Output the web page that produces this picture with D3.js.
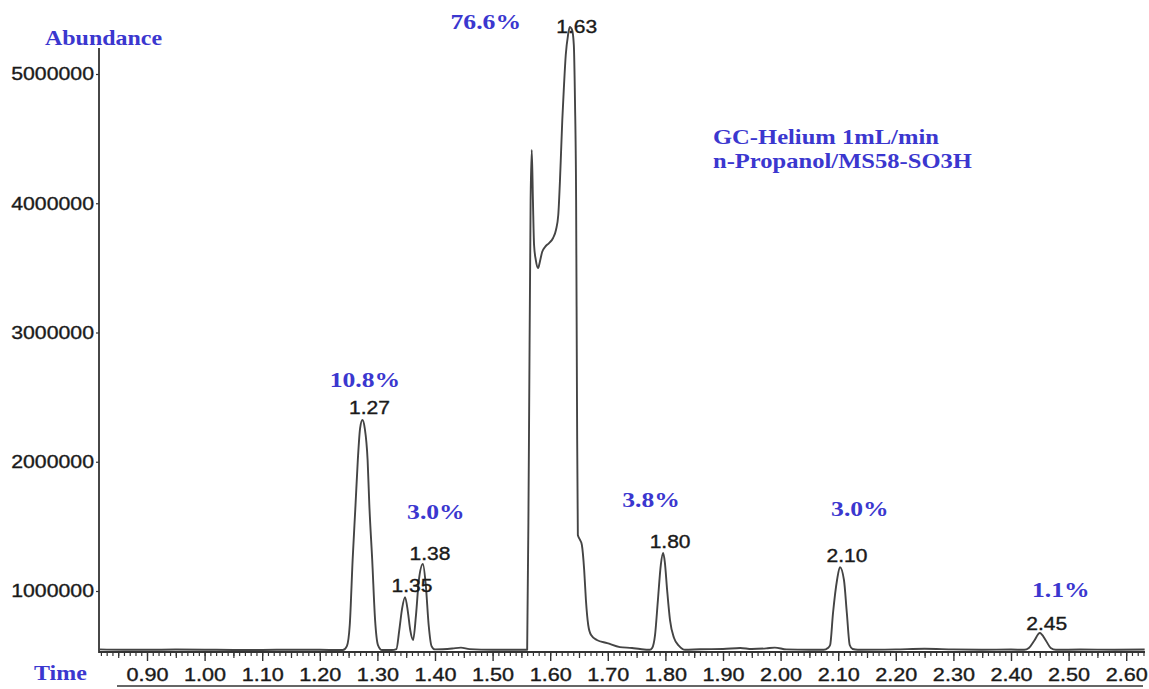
<!DOCTYPE html>
<html>
<head>
<meta charset="utf-8">
<script src="https://cdn.jsdelivr.net/npm/d3@7"></script>
<style>
  html, body { margin: 0; padding: 0; background: #fff; }
  svg { display: block; }
</style>
</head>
<body>
<svg id="chart" width="1149" height="689"></svg>
<script>
// ---- Chromatogram data: retention time (min) vs. abundance ----
const traceTime = [
  0.817, 0.86, 0.90, 0.95, 1.00, 1.05, 1.10, 1.15, 1.20, 1.240,
  1.247, 1.252, 1.257, 1.262, 1.266, 1.270, 1.274, 1.278, 1.283, 1.286,
  1.291, 1.296, 1.301, 1.308, 1.325, 1.333, 1.338, 1.343, 1.348, 1.353,
  1.357, 1.362, 1.367, 1.372, 1.379, 1.384, 1.389, 1.394, 1.400, 1.430,
  1.445, 1.460, 1.500, 1.540, 1.560, 1.563, 1.566, 1.568, 1.570, 1.572,
  1.575, 1.579, 1.582, 1.586, 1.591, 1.598, 1.605, 1.610, 1.614, 1.617,
  1.619, 1.621, 1.624, 1.627, 1.631, 1.634, 1.638, 1.641, 1.643, 1.645,
  1.6465, 1.648, 1.652, 1.655, 1.659, 1.662, 1.666, 1.671, 1.681, 1.699,
  1.721, 1.742, 1.756, 1.773, 1.777, 1.782, 1.787, 1.792, 1.796, 1.799,
  1.803, 1.808, 1.815, 1.824, 1.834, 1.860, 1.900, 1.930, 1.950, 1.975,
  1.990, 2.010, 2.050, 2.075, 2.082, 2.086, 2.091, 2.098, 2.103, 2.110,
  2.115, 2.120, 2.125, 2.134, 2.200, 2.250, 2.300, 2.350, 2.400, 2.423,
  2.431, 2.440, 2.450, 2.461, 2.469, 2.478, 2.520, 2.580, 2.632
];
const traceAbundance = [
  548000, 545000, 545000, 547000, 546000, 544000, 544000, 546000, 545000, 543000,
  574000, 737000, 1240000, 1665000, 2013000, 2261000, 2323000, 2261000, 2013000, 1665000,
  1240000, 775000, 582000, 543000, 543000, 551000, 698000, 868000, 953000, 837000,
  698000, 621000, 814000, 1085000, 1209000, 1046000, 737000, 574000, 548000, 555000,
  562000, 550000, 545000, 546000, 545000, 2091000, 4025000, 4412000, 4025000, 3677000,
  3561000, 3499000, 3546000, 3623000, 3662000, 3692000, 3731000, 3793000, 3909000, 4180000,
  4412000, 4644000, 4915000, 5147000, 5302000, 5364000, 5341000, 5225000, 4799000, 4025000,
  2478000, 1433000, 1394000, 1356000, 1162000, 930000, 737000, 659000, 621000, 597000,
  566000, 559000, 551000, 545000, 559000, 659000, 930000, 1201000, 1294000, 1224000,
  1007000, 775000, 636000, 574000, 545000, 549000, 551000, 559000, 551000, 556000,
  562000, 548000, 545000, 545000, 559000, 582000, 830000, 1085000, 1185000, 1085000,
  830000, 582000, 551000, 545000, 548000, 553000, 548000, 546000, 547000, 545000,
  559000, 613000, 675000, 613000, 559000, 545000, 547000, 546000, 547000
];

// Integrated peaks: apex time, apex abundance, printed retention time
const peakTimes = [1.274, 1.348, 1.379, 1.634, 1.796, 2.103, 2.450];
const peakAbundance = [2323000, 953000, 1209000, 5364000, 1294000, 1185000, 675000];
const peakLabels = ["1.27", "1.35", "1.38", "1.63", "1.80", "2.10", "2.45"];

// Area percentages and the peak each one is written over
const areaLabels = ["10.8%", "3.0%", "76.6%", "3.8%", "3.0%", "1.1%"];
const areaPeak = [0, 2, 3, 4, 5, 6];

// Axis tick labels
const xTickValues = [0.90, 1.00, 1.10, 1.20, 1.30, 1.40, 1.50, 1.60, 1.70, 1.80,
                     1.90, 2.00, 2.10, 2.20, 2.30, 2.40, 2.50, 2.60];
const xTickLabels = ["0.90", "1.00", "1.10", "1.20", "1.30", "1.40", "1.50", "1.60", "1.70",
                     "1.80", "1.90", "2.00", "2.10", "2.20", "2.30", "2.40", "2.50", "2.60"];
const yTickValues = [1000000, 2000000, 3000000, 4000000, 5000000];
const yTickLabels = ["1000000", "2000000", "3000000", "4000000", "5000000"];

const infoLines = ["GC-Helium 1mL/min", "n-Propanol/MS58-SO3H"];

// ---- Layout ----
const INK = "#333";
const BLUE = "#3b37cf";
const SANS = "'Liberation Sans', Arial, sans-serif";
const SERIF = "'Liberation Serif', 'Times New Roman', serif";

const svg = d3.select("#chart");
const x = d3.scaleLinear().domain([0.90, 2.60]).range([147, 1126.2]);
const y = d3.scaleLinear().domain([1000000, 5000000]).range([591, 74]);
const axisX0 = 99, axisX1 = 1145, axisY = 652, axisTop = 48;

// widen glyphs a little, the printout uses a broad face
function stretch(sel, k) {
  sel.each(function () {
    const w = this.getComputedTextLength();
    this.setAttribute("textLength", (w * k).toFixed(1));
    this.setAttribute("lengthAdjust", "spacingAndGlyphs");
  });
}

// printed digits are slightly heavier than the plain face
function heavy(sel) {
  sel.attr("fill", "#1a1a1a").attr("stroke", "#1a1a1a").attr("stroke-width", 0.35);
}

// minor / mid / major ticks on the time axis
const minorVals = d3.range(82, 264).map(d => d / 100);
const midVals = d3.range(85, 264, 10).map(d => d / 100);

svg.append("g")
  .attr("transform", `translate(0,${axisY})`)
  .call(d3.axisBottom(x).tickValues(minorVals).tickSize(4).tickFormat(""))
  .call(g => g.select(".domain").remove())
  .call(g => g.selectAll("line").attr("stroke", INK).attr("stroke-width", 1.2));

svg.append("g")
  .attr("transform", `translate(0,${axisY})`)
  .call(d3.axisBottom(x).tickValues(midVals).tickSize(6).tickFormat(""))
  .call(g => g.select(".domain").remove())
  .call(g => g.selectAll("line").attr("stroke", INK).attr("stroke-width", 1.2));

const gx = svg.append("g")
  .attr("transform", `translate(0,${axisY})`)
  .call(d3.axisBottom(x).tickValues(xTickValues).tickSize(9).tickPadding(7)
          .tickFormat((d, i) => xTickLabels[i]))
  .call(g => g.select(".domain").remove())
  .call(g => g.selectAll("line").attr("stroke", INK).attr("stroke-width", 1.4));
gx.selectAll("text").style("font-family", SANS).style("font-size", "18px");
heavy(gx.selectAll("text"));
stretch(gx.selectAll("text"), 1.2);

// abundance axis
const gy = svg.append("g")
  .attr("transform", `translate(${axisX0},0)`)
  .call(d3.axisLeft(y).tickValues(yTickValues).tickSize(3).tickPadding(2)
          .tickFormat((d, i) => yTickLabels[i]))
  .call(g => g.select(".domain").remove())
  .call(g => g.selectAll("line").attr("stroke", INK).attr("stroke-width", 1.2));
gy.selectAll("text").style("font-family", SANS).style("font-size", "18.5px");
heavy(gy.selectAll("text"));
stretch(gy.selectAll("text"), 1.15);

// axis lines
svg.append("line")
  .attr("x1", axisX0).attr("x2", axisX0).attr("y1", axisTop).attr("y2", axisY + 1)
  .attr("stroke", INK).attr("stroke-width", 1.8);
svg.append("line")
  .attr("x1", axisX0).attr("x2", axisX1).attr("y1", axisY).attr("y2", axisY)
  .attr("stroke", INK).attr("stroke-width", 2);
svg.append("line")
  .attr("x1", 117).attr("x2", 1143).attr("y1", 686).attr("y2", 686)
  .attr("stroke", INK).attr("stroke-width", 1.5);

// signal trace
const line = d3.line()
  .x(i => x(traceTime[i]))
  .y(i => y(traceAbundance[i]))
  .curve(d3.curveMonotoneX);
svg.append("path")
  .attr("d", line(d3.range(traceTime.length)))
  .attr("fill", "none")
  .attr("stroke", "#444")
  .attr("stroke-width", 1.9)
  .attr("stroke-linejoin", "round");

// retention-time labels above each apex
const rtDy = [-6, -5, -4, 6, -5, -5, -3];
const rt = svg.append("g").selectAll("text")
  .data(peakLabels)
  .join("text")
  .attr("x", (d, i) => x(peakTimes[i]) + 7)
  .attr("y", (d, i) => y(peakAbundance[i]) + rtDy[i])
  .attr("text-anchor", "middle")
  .style("font-family", SANS)
  .style("font-size", "17.5px")
  .text(d => d);
heavy(rt);
stretch(rt, 1.2);

// area-percent annotations
const areaOffset = [[2.5, -33], [13, -45], [-84, 2], [-12, -46], [20, -51], [21, -36]];
const ap = svg.append("g").selectAll("text")
  .data(areaLabels)
  .join("text")
  .attr("x", (d, i) => x(peakTimes[areaPeak[i]]) + areaOffset[i][0])
  .attr("y", (d, i) => y(peakAbundance[areaPeak[i]]) + areaOffset[i][1])
  .attr("text-anchor", "middle")
  .attr("fill", BLUE)
  .style("font-family", SERIF)
  .style("font-weight", "bold")
  .style("font-size", "21px")
  .text(d => d);
stretch(ap, 1.22);

// axis titles
const tA = svg.append("text")
  .attr("x", 45).attr("y", 45)
  .attr("fill", BLUE)
  .style("font-family", SERIF).style("font-weight", "bold").style("font-size", "21px")
  .text("Abundance");
stretch(tA, 1.14);
const tT = svg.append("text")
  .attr("x", 34).attr("y", 680)
  .attr("fill", BLUE)
  .style("font-family", SERIF).style("font-weight", "bold").style("font-size", "21px")
  .text("Time");
stretch(tT, 1.14);

// method note
const info = svg.append("g").selectAll("text")
  .data(infoLines)
  .join("text")
  .attr("x", 713)
  .attr("y", (d, i) => 144 + i * 24)
  .attr("fill", BLUE)
  .style("font-family", SERIF).style("font-weight", "bold").style("font-size", "21px")
  .text(d => d);
stretch(info, 1.17);
</script>
</body>
</html>
